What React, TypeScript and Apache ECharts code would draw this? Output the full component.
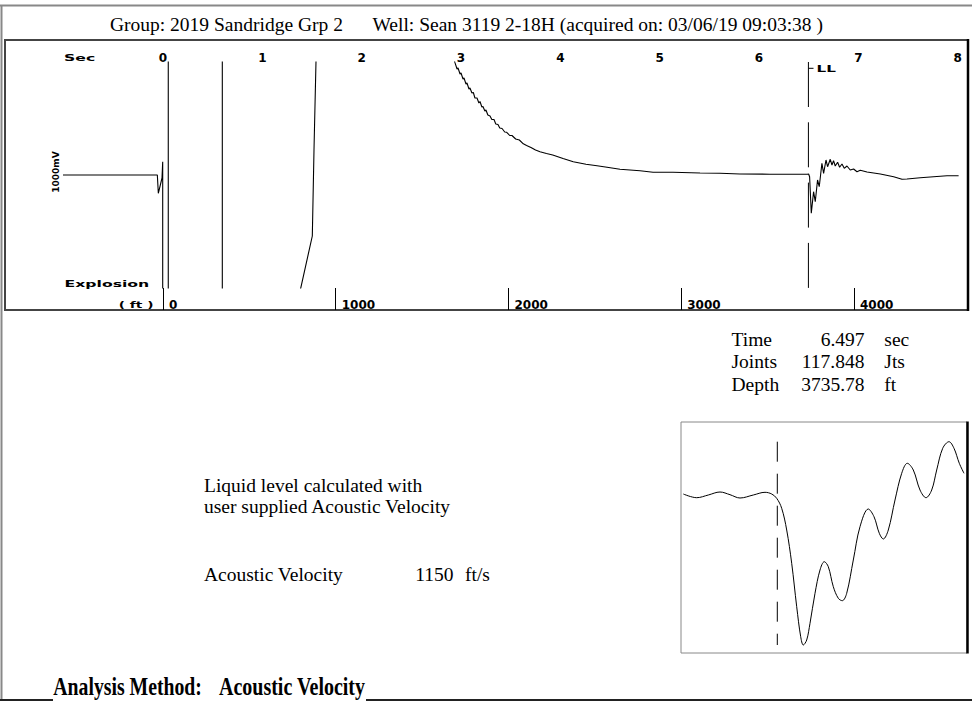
import React, { useEffect, useRef } from "react";
import * as echarts from "echarts";

// ---------- data ----------
const secTicks = [0, 1, 2, 3, 4, 5, 6, 7, 8];
const ftTicks = [0, 1000, 2000, 3000, 4000];
const llTime = 6.497;

// [time (s), amplitude] — values beyond +/-113 are off scale (clipped)
const explosionTrace = [
  [-1.007, 0], [-0.5, 0], [-0.057, 0], [-0.047, -18.3], [-0.01, -3], [-0.003, 13.3],
  [-0.003, -400], [0.053, -400], [0.053, 400], [0.597, 400], [0.597, -400],
  [1.35, -130], [1.386, -113.3], [1.503, -61], [1.52, 25], [1.54, 113], [1.546, 135],
  [2.89, 130],
];
const decayTrace = [
  [2.939, 112.3], [2.96, 106], [2.97, 107], [2.99, 101], [3.0, 102], [3.02, 96], [3.03, 97],
  [3.05, 91], [3.06, 92], [3.08, 86], [3.09, 87], [3.11, 82], [3.124, 82.5],
  [3.14, 77], [3.161, 77], [3.18, 72], [3.191, 73.5], [3.21, 68], [3.221, 68.5],
  [3.24, 64], [3.251, 65], [3.27, 60], [3.292, 59], [3.31, 55.5], [3.332, 55.5],
  [3.35, 51], [3.372, 50.5], [3.39, 47], [3.413, 46.5], [3.44, 43], [3.46, 42.7], [3.49, 39.5],
  [3.513, 39.5], [3.55, 36], [3.587, 35], [3.627, 31.2], [3.66, 29.5],
  [3.704, 27.5], [3.75, 25], [3.795, 23.3], [3.86, 21.5], [3.923, 20], [4.027, 16.5], [4.13, 13.3], [4.258, 10.7],
  [4.369, 9.2], [4.47, 7.7], [4.6, 5.7], [4.802, 4.3], [4.933, 2.7], [5.134, 2.7],
  [5.406, 2], [5.607, 1.7], [5.808, 1], [6.11, 0.8], [6.486, 0.7],
];
const echoTrace = [
  [6.499, 1], [6.509, -1.7], [6.526, -38.3], [6.549, -16.7], [6.566, -26.7], [6.589, -5],
  [6.606, -11.7], [6.633, 11.7], [6.65, 1.7], [6.674, 15], [6.69, 8.3], [6.717, 15.7],
  [6.734, 10], [6.75, 14.3], [6.767, 9], [6.791, 12.7], [6.811, 7.7], [6.835, 11],
  [6.858, 6.7], [6.885, 9], [6.918, 5], [6.952, 6], [6.986, 3.3], [7.019, 4.7],
  [7.087, 3], [7.221, 1], [7.355, -1.7], [7.439, -4.3], [7.489, -4], [7.623, -2.7],
  [7.757, -1.7], [7.892, -0.7], [8.009, -0.7],
];
const insetTrace = [
  [6.403, 1], [6.4164, -2.7], [6.428, 0], [6.4397, 3], [6.4497, 0.3], [6.4597, -3],
  [6.473, 0], [6.4847, 2.7], [6.4914, 1], [6.4964, -3.3], [6.5014, -13.3], [6.5064, -35],
  [6.5114, -68.3], [6.5164, -111.7], [6.5204, -141.7], [6.523, -150], [6.5264, -145],
  [6.5297, -128.3], [6.5347, -98.3], [6.5397, -75], [6.544, -66.7], [6.548, -71.7],
  [6.553, -91.7], [6.558, -103.3], [6.562, -105.7], [6.5664, -98.3], [6.573, -65],
  [6.5797, -31.7], [6.588, -14], [6.5937, -21.7], [6.599, -38.3], [6.603, -44],
  [6.608, -35], [6.6147, -5], [6.6214, 21.7], [6.627, 31.7], [6.633, 25], [6.6397, 5],
  [6.6457, -2.7], [6.6514, 5], [6.6564, 25], [6.6624, 46.7], [6.6687, 53.3],
  [6.6737, 46.7], [6.679, 31.7], [6.6837, 21.7],
];
const mainLLSpan = [113, -113];
const insetLLSpan = [53.3, -150];

const titleGroup = "Group: 2019 Sandridge Grp 2";
const titleWell = "Well: Sean 3119 2-18H (acquired on: 03/06/19 09:03:38 )";
const infoLabels = ["Time", "Joints", "Depth"];
const infoValues = ["6.497", "117.848", "3735.78"];
const infoUnits = ["sec", "Jts", "ft"];
const noteLines = ["Liquid level calculated with", "user supplied Acoustic Velocity"];
const velocityLabel = "Acoustic Velocity";
const velocityValue = "1150";
const velocityUnit = "ft/s";
const methodLabel = "Analysis Method:";
const methodValue = "Acoustic Velocity";

const SERIF = "'Liberation Serif', 'Times New Roman', serif";
const SANS = "'DejaVu Sans', 'Liberation Sans', sans-serif";

function txt(text: string, x: number, y: number, o: any = {}) {
  const align = o.align || "left";
  const va = o.va || "middle";
  return {
    type: "text",
    x,
    y,
    scaleX: o.scaleX || 1,
    rotation: o.rotation || 0,
    silent: true,
    style: {
      text,
      fill: "#000",
      fontSize: o.size || 19.5,
      fontFamily: o.family || SERIF,
      fontWeight: o.weight || "normal",
      align,
      textAlign: align,
      verticalAlign: va,
      textVerticalAlign: va,
    },
  };
}
function ln(x1: number, y1: number, x2: number, y2: number, stroke: string, w: number) {
  return { type: "line", silent: true, shape: { x1, y1, x2, y2 }, style: { stroke, lineWidth: w } };
}

export default function App() {
  const ref = useRef<HTMLDivElement>(null);
  useEffect(() => {
    if (!ref.current) return;
    const chart = echarts.init(ref.current, undefined, { renderer: "svg" });
    const mainTrace = [...explosionTrace, ...decayTrace, ...echoTrace];

    const graphic: any[] = [
      // outer frame
      ln(0, 5.5, 972, 5.5, "#888", 2),
      ln(1.5, 5, 1.5, 700, "#888", 2),
      ln(0, 700, 53, 700, "#222", 2),
      ln(366, 700, 972, 700, "#222", 2),
      // main box
      { type: "rect", silent: true, shape: { x: 5, y: 40, width: 963, height: 270 }, style: { fill: "none", stroke: "#444", lineWidth: 2 } },
      ln(968, 39, 968, 311, "#000", 2.5),
      // inset box
      { type: "rect", silent: true, shape: { x: 681, y: 422, width: 286, height: 231 }, style: { fill: "none", stroke: "#888", lineWidth: 1 } },
      ln(967.5, 421.5, 967.5, 653.5, "#000", 2.5),
      // title
      txt(titleGroup, 110, 24),
      txt(titleWell, 372.5, 24),
      // chart annotations
      txt("Sec", 64, 57.7, { family: SANS, weight: "bold", size: 9.5, scaleX: 1.65 }),
      txt("Explosion", 64.5, 284, { family: SANS, weight: "bold", size: 9.5, scaleX: 1.65 }),
      txt("( ft )", 153.5, 305, { family: SANS, weight: "bold", size: 9.5, scaleX: 1.45, align: "right" }),
      txt("1000mV", 56, 172, { family: SANS, weight: "bold", size: 9, align: "center", rotation: Math.PI / 2 }),
      ln(808.4, 68.3, 813.5, 68.3, "#000", 1),
      txt("LL", 816.5, 68.3, { family: SANS, weight: "bold", size: 9.5, scaleX: 1.6 }),
      // notes
      txt(noteLines[0], 204, 485.1),
      txt(noteLines[1], 204, 506.7),
      txt(velocityLabel, 204, 574.1),
      txt(velocityValue, 453.5, 574.1, { align: "right" }),
      txt(velocityUnit, 465, 574.1),
      txt(methodLabel, 53.3, 686.6, { weight: "bold", size: 25, scaleX: 0.79 }),
      txt(methodValue, 219, 686.6, { weight: "bold", size: 25, scaleX: 0.8 }),
    ];
    const rowY = [339.4, 361.7, 384.4];
    infoLabels.forEach((l, i) => {
      graphic.push(txt(l, 731.5, rowY[i]));
      graphic.push(txt(infoValues[i], 864.5, rowY[i], { align: "right" }));
      graphic.push(txt(infoUnits[i], 884.3, rowY[i]));
    });

    chart.setOption({
      animation: false,
      backgroundColor: "#fff",
      grid: [
        { left: 5, top: 62, width: 963, height: 226, outerBoundsMode: "none", containLabel: false },
        { left: 681, top: 422, width: 286, height: 231, outerBoundsMode: "none", containLabel: false },
      ],
      xAxis: [
        {
          type: "value", gridIndex: 0, position: "top", min: -1.5905, max: 8.1035,
          axisLine: { show: false }, axisTick: { show: false }, splitLine: { show: false },
          axisLabel: { customValues: secTicks, margin: -2, color: "#000", fontSize: 12, fontWeight: "bold", fontFamily: SANS, formatter: (v: number) => String(v) },
        },
        {
          type: "value", gridIndex: 0, position: "bottom", offset: 22, min: -914.6, max: 4659.9,
          axisLine: { show: false }, splitLine: { show: false },
          axisTick: { show: true, customValues: ftTicks, inside: true, length: 22, lineStyle: { color: "#000", width: 1 } },
          axisLabel: { customValues: ftTicks, inside: true, margin: -1, align: "left", padding: [0, 0, 0, 6], color: "#000", fontSize: 12, fontWeight: "bold", fontFamily: SANS, formatter: (v: number) => String(v) },
        },
        {
          type: "value", gridIndex: 1, min: 6.4007, max: 6.6867, show: false,
        },
      ],
      yAxis: [
        { type: "value", gridIndex: 0, min: -113, max: 113, show: false },
        { type: "value", gridIndex: 1, min: -158, max: 73, show: false },
      ],
      series: [
        {
          type: "line", xAxisIndex: 0, yAxisIndex: 0, data: mainTrace, showSymbol: false, clip: true,
          lineStyle: { color: "#000", width: 1.1 }, silent: true,
        },
        {
          type: "line", xAxisIndex: 0, yAxisIndex: 0, data: mainLLSpan.map((v) => [llTime, v]), showSymbol: false,
          lineStyle: { color: "#000", width: 1, type: [45, 15.3] }, silent: true,
        },
        {
          type: "line", xAxisIndex: 2, yAxisIndex: 1, data: insetTrace, showSymbol: false, smooth: 0.35,
          lineStyle: { color: "#000", width: 1 }, silent: true,
        },
        {
          type: "line", xAxisIndex: 2, yAxisIndex: 1, data: insetLLSpan.map((v) => [llTime, v]), showSymbol: false,
          lineStyle: { color: "#000", width: 1, type: [20, 12] }, silent: true,
        },
      ],
      graphic,
    });
    return () => chart.dispose();
  }, []);
  return <div ref={ref} style={{ position: "fixed", left: 0, top: 0, width: 972, height: 701, background: "#fff" }} />;
}
